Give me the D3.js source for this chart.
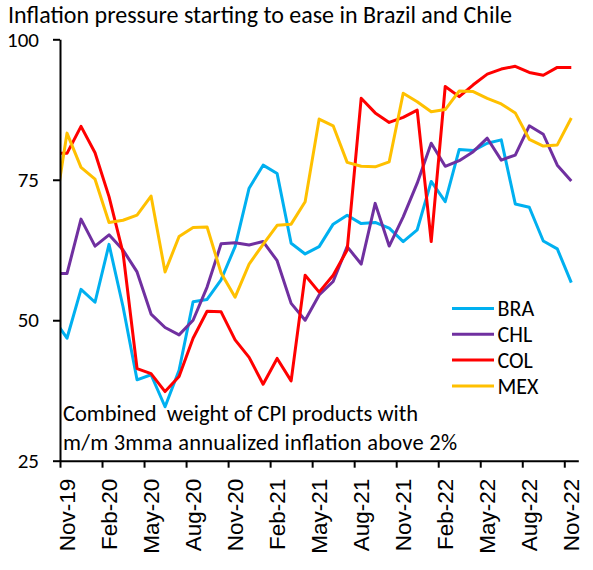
<!DOCTYPE html>
<html><head><meta charset="utf-8">
<script src="https://cdn.jsdelivr.net/npm/d3@7"></script>
<style>
html,body{margin:0;padding:0;background:#fff;}
svg{display:block;}
</style></head>
<body>
<svg id="chart" width="593" height="570"></svg>
<script>
// Categories (first one, Oct-19, lies left of the axis and is clipped)
const months = ["Oct-19","Nov-19","Dec-19","Jan-20","Feb-20","Mar-20","Apr-20","May-20","Jun-20","Jul-20","Aug-20","Sep-20","Oct-20",
  "Nov-20","Dec-20","Jan-21","Feb-21","Mar-21","Apr-21","May-21","Jun-21","Jul-21","Aug-21","Sep-21","Oct-21",
  "Nov-21","Dec-21","Jan-22","Feb-22","Mar-22","Apr-22","May-22","Jun-22","Jul-22","Aug-22","Sep-22","Oct-22","Nov-22"];
const tickLabels = ["Nov-19","Feb-20","May-20","Aug-20","Nov-20","Feb-21","May-21","Aug-21","Nov-21","Feb-22","May-22","Aug-22","Nov-22"];
const yTicks = [25, 50, 75, 100];

const BRA = [50.4,46.8,55.5,53.2,63.5,52.4,39.4,40.3,34.6,41.1,53.3,53.7,57.2,63.1,73.5,77.6,76.1,63.7,61.8,63.1,67.1,68.7,67.2,67.4,66.4,64.0,66.1,74.7,71.1,80.4,80.2,81.5,82.1,70.7,70.1,64.1,62.7,56.7];
const CHL = [58.3,58.3,68.0,63.2,65.2,62.5,58.6,51.1,48.7,47.4,50.0,55.9,63.6,63.8,63.4,64.0,60.6,53.0,50.0,54.5,56.9,63.1,60.0,70.8,63.2,68.4,74.4,81.5,77.4,78.4,80.0,82.4,78.5,79.4,84.6,83.1,77.6,74.8];
const COL = [79.7,79.7,84.5,79.8,72.0,62.0,41.4,40.5,37.3,40.0,46.8,51.6,51.5,46.5,43.4,38.6,43.2,39.2,58.0,55.0,58.0,62.5,89.5,86.9,85.2,86.1,87.4,64.0,91.6,89.8,91.9,93.8,94.7,95.2,94.1,93.6,95.0,95.0];
const MEX = [67.3,83.3,77.2,75.1,67.4,67.8,68.7,72.1,58.6,64.9,66.5,66.6,58.4,54.1,60.0,63.5,66.9,67.1,71.1,85.8,84.6,78.1,77.4,77.3,78.2,90.4,88.9,87.1,87.5,90.8,90.7,89.5,88.5,86.9,82.2,81.0,81.2,86.0];

const seriesNames = ["BRA","CHL","COL","MEX"];
const seriesValues = [BRA, CHL, COL, MEX];
const seriesColors = ["#00B0F0","#7030A0","#FF0000","#FFC000"];

const title = "Inflation pressure starting to ease in Brazil and Chile";
const note = ["Combined  weight of CPI products with", "m/m 3mma annualized inflation above 2%"];

const svg = d3.select("#chart");
const L = 60, R = 578.3, T = 39.3, B = 460.7;
const x = d3.scaleLinear().domain([1, months.length]).range([L, R]); // category boundaries
const xc = i => x(i + 0.5);
const y = d3.scaleLinear().domain([25, 100]).range([B, T]);

const calibri = "Carlito, Calibri, Lato, sans-serif";

// title
svg.append("text").attr("x", 8).attr("y", 22.5)
  .attr("font-family", calibri).attr("font-size", 24).attr("fill", "#000")
  .text(title);

// clip
svg.append("defs").append("clipPath").attr("id", "clip")
  .append("rect").attr("x", L).attr("y", 0).attr("width", 593 - L).attr("height", 570);

// lines
const line = d3.line().x((d, i) => xc(i)).y(d => y(d));
const g = svg.append("g").attr("clip-path", "url(#clip)");
seriesValues.forEach((vals, k) => {
  g.append("path").datum(vals)
    .attr("d", line).attr("fill", "none")
    .attr("stroke", seriesColors[k]).attr("stroke-width", 3)
    .attr("stroke-linejoin", "round").attr("stroke-linecap", "butt");
});

// y axis
const yAxis = svg.append("g").attr("transform", `translate(${L},0)`)
  .call(d3.axisLeft(y).tickValues(yTicks).tickSize(7).tickSizeOuter(0).tickPadding(14));
yAxis.select(".domain").attr("stroke", "#000").attr("stroke-width", 2);
yAxis.selectAll(".tick line").attr("stroke", "#000").attr("stroke-width", 2);
yAxis.selectAll(".tick text").attr("font-family", calibri).attr("font-size", 21).attr("fill", "#000");

// x axis (ticks at category boundaries every 3)
const tickIdx = d3.range(1, months.length + 1, 3);
const xAxis = svg.append("g").attr("transform", `translate(0,${B})`)
  .call(d3.axisBottom(x).tickValues(tickIdx).tickSize(7).tickSizeOuter(0).tickFormat(""));
xAxis.select(".domain").attr("stroke", "#000").attr("stroke-width", 2);
xAxis.selectAll(".tick line").attr("stroke", "#000").attr("stroke-width", 2);

// x labels centered on categories
svg.append("g").selectAll("text").data(tickLabels).join("text")
  .attr("transform", d => `translate(${xc(months.indexOf(d))},${B + 18}) rotate(-90)`)
  .attr("text-anchor", "end").attr("dy", "0.35em")
  .attr("font-family", "Liberation Sans, Arial, sans-serif").attr("font-size", 22.5).attr("fill", "#000")
  .text(d => d);

// note
const noteWidths = [355, 394];
svg.append("g").selectAll("text").data(note).join("text")
  .attr("x", 63).attr("y", (d, i) => 421 + i * 28.5)
  .attr("font-family", calibri).attr("font-size", 22.5).attr("fill", "#000")
  .attr("textLength", (d, i) => noteWidths[i]).attr("lengthAdjust", "spacing")
  .attr("xml:space", "preserve").style("white-space", "pre")
  .text(d => d);

// legend
const lg = svg.append("g");
seriesNames.forEach((n, k) => {
  const yy = 308.5 + k * 25.8;
  lg.append("line").attr("x1", 452).attr("x2", 494).attr("y1", yy).attr("y2", yy)
    .attr("stroke", seriesColors[k]).attr("stroke-width", 3);
  lg.append("text").attr("x", 497.5).attr("y", yy).attr("dy", "0.35em")
    .attr("font-family", calibri).attr("font-size", 22).attr("fill", "#000").text(n);
});
</script>
</body></html>
